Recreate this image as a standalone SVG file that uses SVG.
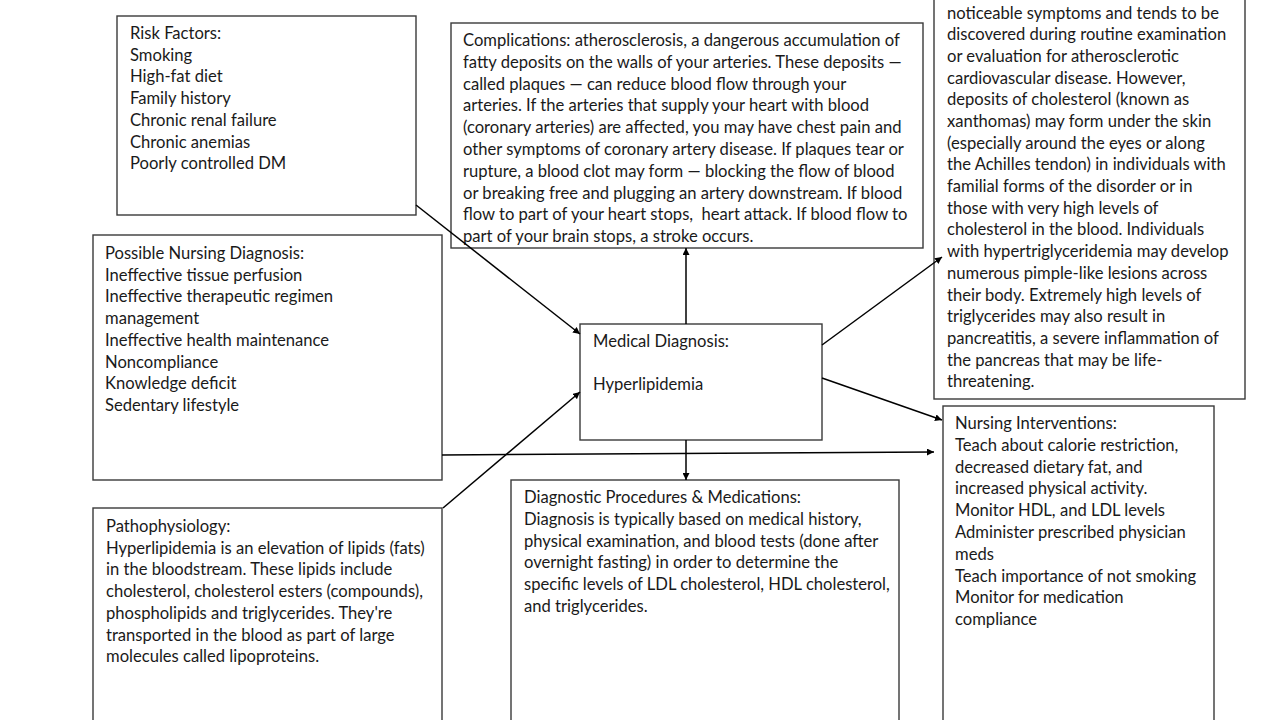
<svg xmlns="http://www.w3.org/2000/svg" width="1280" height="720" viewBox="0 0 1280 720">
<style>
.box{fill:#fff;stroke:#3a3a3a;stroke-width:1.4}
.t{font-family:Lato,"Liberation Sans",sans-serif;font-size:16.6px;fill:#1a1a1a}
.c{stroke:#000;stroke-width:1.5;fill:none;marker-end:url(#ah)}
</style>
<defs>
<marker id="ah" viewBox="0 0 10 10" refX="10" refY="5" markerWidth="7" markerHeight="7" markerUnits="userSpaceOnUse" orient="auto">
<path d="M0,0 L10,5 L0,10 z" fill="#000"/>
</marker>
</defs>
<rect width="1280" height="720" fill="#fff"/>

<g id="risk">
<rect class="box" x="117" y="16" width="299" height="199"/>
<text class="t" x="130" y="39">
<tspan x="130" dy="0">Risk Factors:</tspan>
<tspan x="130" dy="21.7">Smoking</tspan>
<tspan x="130" dy="21.7">High-fat diet</tspan>
<tspan x="130" dy="21.7">Family history</tspan>
<tspan x="130" dy="21.7">Chronic renal failure</tspan>
<tspan x="130" dy="21.7">Chronic anemias</tspan>
<tspan x="130" dy="21.7">Poorly controlled DM</tspan>
</text>
</g>

<g id="nursing-diagnosis">
<rect class="box" x="93" y="235" width="349" height="245"/>
<text class="t" x="105" y="259">
<tspan x="105" dy="0">Possible Nursing Diagnosis:</tspan>
<tspan x="105" dy="21.7">Ineffective tissue perfusion</tspan>
<tspan x="105" dy="21.7">Ineffective therapeutic regimen</tspan>
<tspan x="105" dy="21.7">management</tspan>
<tspan x="105" dy="21.7">Ineffective health maintenance</tspan>
<tspan x="105" dy="21.7">Noncompliance</tspan>
<tspan x="105" dy="21.7">Knowledge deficit</tspan>
<tspan x="105" dy="21.7">Sedentary lifestyle</tspan>
</text>
</g>

<g id="pathophysiology">
<rect class="box" x="93" y="508" width="349" height="230"/>
<text class="t" x="106" y="532">
<tspan x="106" dy="0">Pathophysiology:</tspan>
<tspan x="106" dy="21.7">Hyperlipidemia is an elevation of lipids (fats)</tspan>
<tspan x="106" dy="21.7">in the bloodstream. These lipids include</tspan>
<tspan x="106" dy="21.7">cholesterol, cholesterol esters (compounds),</tspan>
<tspan x="106" dy="21.7">phospholipids and triglycerides. They're</tspan>
<tspan x="106" dy="21.7">transported in the blood as part of large</tspan>
<tspan x="106" dy="21.7">molecules called lipoproteins.</tspan>
</text>
</g>

<g id="complications">
<rect class="box" x="451" y="23" width="472" height="225"/>
<text class="t" x="463" y="46">
<tspan x="463" dy="0">Complications: atherosclerosis, a dangerous accumulation of</tspan>
<tspan x="463" dy="21.8">fatty deposits on the walls of your arteries. These deposits —</tspan>
<tspan x="463" dy="21.8">called plaques — can reduce blood flow through your</tspan>
<tspan x="463" dy="21.8">arteries. If the arteries that supply your heart with blood</tspan>
<tspan x="463" dy="21.8">(coronary arteries) are affected, you may have chest pain and</tspan>
<tspan x="463" dy="21.8">other symptoms of coronary artery disease. If plaques tear or</tspan>
<tspan x="463" dy="21.8">rupture, a blood clot may form — blocking the flow of blood</tspan>
<tspan x="463" dy="21.8">or breaking free and plugging an artery downstream. If blood</tspan>
<tspan x="463" dy="21.8" xml:space="preserve">flow to part of your heart stops,  heart attack. If blood flow to</tspan>
<tspan x="463" dy="21.8">part of your brain stops, a stroke occurs.</tspan>
</text>
</g>

<g id="signs">
<rect class="box" x="934" y="-10" width="311" height="409"/>
<text class="t" x="947" y="18.5">
<tspan x="947" dy="0">noticeable symptoms and tends to be</tspan>
<tspan x="947" dy="21.7">discovered during routine examination</tspan>
<tspan x="947" dy="21.7">or evaluation for atherosclerotic</tspan>
<tspan x="947" dy="21.7">cardiovascular disease. However,</tspan>
<tspan x="947" dy="21.7">deposits of cholesterol (known as</tspan>
<tspan x="947" dy="21.7">xanthomas) may form under the skin</tspan>
<tspan x="947" dy="21.7">(especially around the eyes or along</tspan>
<tspan x="947" dy="21.7">the Achilles tendon) in individuals with</tspan>
<tspan x="947" dy="21.7">familial forms of the disorder or in</tspan>
<tspan x="947" dy="21.7">those with very high levels of</tspan>
<tspan x="947" dy="21.7">cholesterol in the blood. Individuals</tspan>
<tspan x="947" dy="21.7">with hypertriglyceridemia may develop</tspan>
<tspan x="947" dy="21.7">numerous pimple-like lesions across</tspan>
<tspan x="947" dy="21.7">their body. Extremely high levels of</tspan>
<tspan x="947" dy="21.7">triglycerides may also result in</tspan>
<tspan x="947" dy="21.7">pancreatitis, a severe inflammation of</tspan>
<tspan x="947" dy="21.7">the pancreas that may be life-</tspan>
<tspan x="947" dy="21.7">threatening.</tspan>
</text>
</g>

<g id="medical-diagnosis">
<rect class="box" x="580" y="324" width="242" height="116"/>
<text class="t" x="593" y="347">Medical Diagnosis:</text>
<text class="t" x="593" y="390">Hyperlipidemia</text>
</g>

<g id="diagnostic">
<rect class="box" x="511" y="480" width="388" height="258"/>
<text class="t" x="524" y="503">
<tspan x="524" dy="0">Diagnostic Procedures &amp; Medications:</tspan>
<tspan x="524" dy="21.8">Diagnosis is typically based on medical history,</tspan>
<tspan x="524" dy="21.8">physical examination, and blood tests (done after</tspan>
<tspan x="524" dy="21.8">overnight fasting) in order to determine the</tspan>
<tspan x="524" dy="21.8">specific levels of LDL cholesterol, HDL cholesterol,</tspan>
<tspan x="524" dy="21.8">and triglycerides.</tspan>
</text>
</g>

<g id="interventions">
<rect class="box" x="943" y="406" width="271" height="332"/>
<text class="t" x="955" y="429">
<tspan x="955" dy="0">Nursing Interventions:</tspan>
<tspan x="955" dy="21.8">Teach about calorie restriction,</tspan>
<tspan x="955" dy="21.8">decreased dietary fat, and</tspan>
<tspan x="955" dy="21.8">increased physical activity.</tspan>
<tspan x="955" dy="21.8">Monitor HDL, and LDL levels</tspan>
<tspan x="955" dy="21.8">Administer prescribed physician</tspan>
<tspan x="955" dy="21.8">meds</tspan>
<tspan x="955" dy="21.8">Teach importance of not smoking</tspan>
<tspan x="955" dy="21.8">Monitor for medication</tspan>
<tspan x="955" dy="21.8">compliance</tspan>
</text>
</g>

<g id="connectors">
<line class="c" x1="416" y1="205" x2="580" y2="334"/>
<line class="c" x1="443" y1="508" x2="580" y2="392"/>
<line class="c" x1="442" y1="455" x2="934" y2="452"/>
<line class="c" x1="686" y1="324" x2="686" y2="248"/>
<line class="c" x1="686" y1="440" x2="686" y2="480"/>
<line class="c" x1="822" y1="345" x2="942" y2="257"/>
<line class="c" x1="822" y1="378" x2="942" y2="420"/>
</g>
</svg>
